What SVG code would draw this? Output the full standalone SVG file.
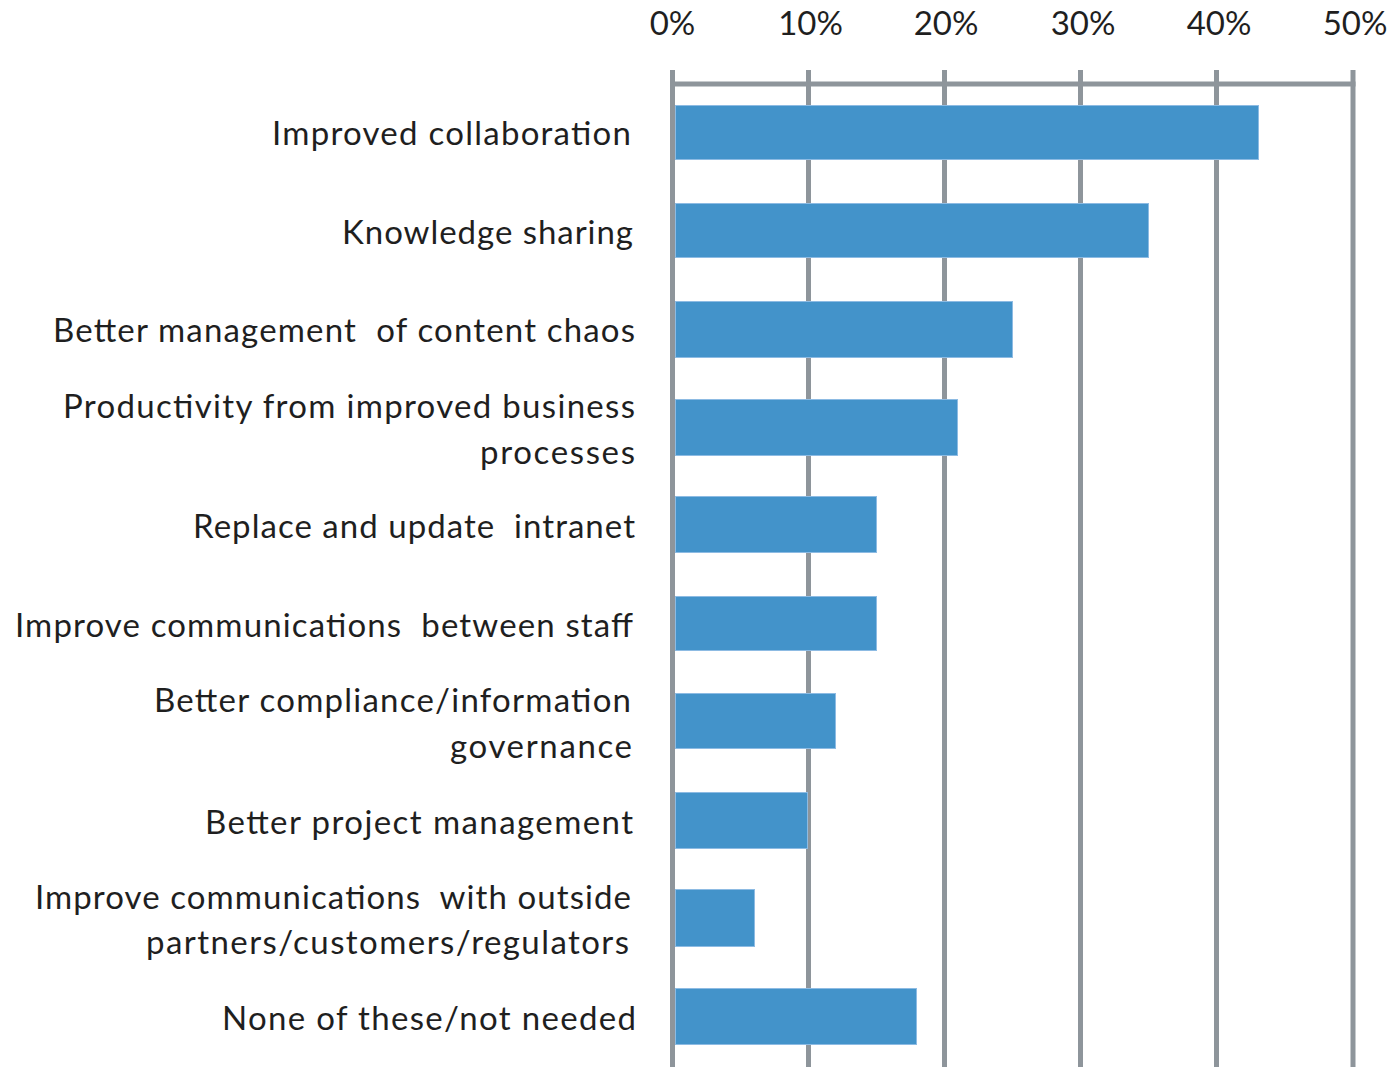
<svg xmlns="http://www.w3.org/2000/svg" width="1393" height="1067" viewBox="0 0 1393 1067">
<style>
.lbl{font-family:Lato,"Open Sans","Liberation Sans",sans-serif;font-size:33px;fill:#1f1f1f;text-anchor:end;white-space:pre}
.ax{font-family:Lato,"Open Sans","Liberation Sans",sans-serif;font-size:33px;fill:#1f1f1f;text-anchor:middle}
.grid{stroke:#8e959b;stroke-width:5;fill:none}
.bar{fill:#4393ca;stroke:#8dbbe3;stroke-width:1}
</style>
<rect width="1393" height="1067" fill="#ffffff"/>
<g id="axis">
<line class="grid" x1="670" y1="84" x2="1355.5" y2="84"/>
<line class="grid" x1="672.5" y1="70" x2="672.5" y2="1067"/>
<line class="grid" x1="808.5" y1="70" x2="808.5" y2="1067"/>
<line class="grid" x1="944.5" y1="70" x2="944.5" y2="1067"/>
<line class="grid" x1="1080.5" y1="70" x2="1080.5" y2="1067"/>
<line class="grid" x1="1216.5" y1="70" x2="1216.5" y2="1067"/>
<line class="grid" x1="1353" y1="70" x2="1353" y2="1067"/>
<text class="ax" x="672.5" y="35">0%</text>
<text class="ax" x="810.5" y="35">10%</text>
<text class="ax" x="946" y="35">20%</text>
<text class="ax" x="1083" y="35">30%</text>
<text class="ax" x="1219" y="35">40%</text>
<text class="ax" x="1355" y="35">50%</text>
</g>
<g id="bars">
<g id="bar1"><rect class="bar" x="675.5" y="105.5" width="583" height="54"/><text class="lbl" x="631" y="145" textLength="359">Improved collaboration</text></g>
<g id="bar2"><rect class="bar" x="675.5" y="203.5" width="473" height="54"/><text class="lbl" x="633" y="244" textLength="291">Knowledge sharing</text></g>
<g id="bar3"><rect class="bar" x="675.5" y="301.5" width="337" height="56"/><text class="lbl" x="635" y="342" textLength="582">Better management  of content chaos</text></g>
<g id="bar4"><rect class="bar" x="675.5" y="399.5" width="282" height="56"/><text class="lbl" x="635" y="418" textLength="572">Productivity from improved business</text><text class="lbl" x="635" y="464" textLength="155">processes</text></g>
<g id="bar5"><rect class="bar" x="675.5" y="496.5" width="201" height="56"/><text class="lbl" x="635" y="538" textLength="442">Replace and update  intranet</text></g>
<g id="bar6"><rect class="bar" x="675.5" y="596.5" width="201" height="54"/><text class="lbl" x="633" y="637" textLength="618">Improve communications  between staff</text></g>
<g id="bar7"><rect class="bar" x="675.5" y="693.5" width="160" height="55"/><text class="lbl" x="631" y="712" textLength="477">Better compliance/information</text><text class="lbl" x="632" y="758" textLength="182">governance</text></g>
<g id="bar8"><rect class="bar" x="675.5" y="792.5" width="132" height="56"/><text class="lbl" x="633" y="834" textLength="428">Better project management</text></g>
<g id="bar9"><rect class="bar" x="675.5" y="889.5" width="79" height="57"/><text class="lbl" x="631" y="909" textLength="596">Improve communications  with outside</text><text class="lbl" x="629" y="954" textLength="483">partners/customers/regulators</text></g>
<g id="bar10"><rect class="bar" x="675.5" y="988.5" width="241" height="56"/><text class="lbl" x="636" y="1030" textLength="414">None of these/not needed</text></g>
</g>
</svg>
